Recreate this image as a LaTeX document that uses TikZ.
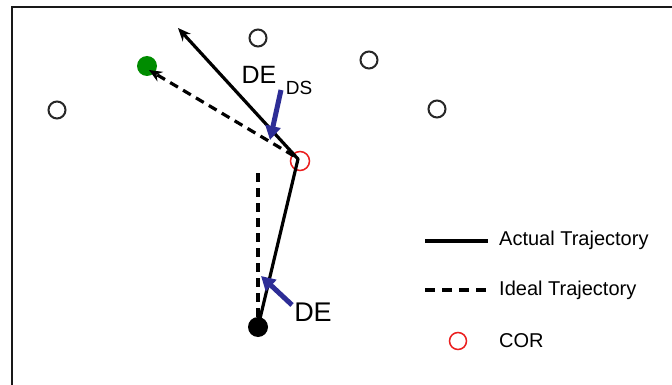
\documentclass[tikz,border=0pt]{standalone}
\usepackage{fontspec}
\setmainfont{Liberation Sans}
\usetikzlibrary{arrows.meta}
\definecolor{arrowblue}{RGB}{45,45,150}
\definecolor{goalgreen}{RGB}{0,140,0}
\definecolor{corred}{RGB}{235,30,30}
\begin{document}
\begin{tikzpicture}[x=1pt,y=-1pt,
  obst/.style={circle,draw=black!85,line width=2pt,minimum size=17pt,inner sep=0pt},
  goalpt/.style={circle,fill=goalgreen,minimum size=20pt,inner sep=0pt},
  startpt/.style={circle,fill=black,minimum size=20pt,inner sep=0pt},
  corpt/.style={circle,draw=corred,line width=1.5pt,minimum size=19pt,inner sep=0pt},
  actual/.style={line width=3.2pt,line join=round},
  ideal/.style={line width=3.2pt,dash pattern=on 9pt off 6pt},
  bluearrow/.style={draw=arrowblue,line width=5pt,-{Triangle[length=14pt,width=15pt]}},
  big/.style={font=\fontsize{27}{30}\selectfont,inner sep=0pt},
  bigds/.style={font=\fontsize{25}{28}\selectfont,inner sep=0pt},
  small/.style={font=\fontsize{19}{22}\selectfont,inner sep=0pt},
  legend/.style={font=\fontsize{20}{23}\selectfont,anchor=west,inner sep=0pt}
]
\useasboundingbox (0,0) rectangle (672,385);
\fill[white] (0,0) rectangle (672,385);
% frame
\draw[line width=2.5pt,black!90] (12,385) -- (12,7) -- (672,7);
% obstacles
\node[obst] (o1) at (57,110) {};
\node[obst] (o2) at (258,38) {};
\node[obst] (o3) at (369,60) {};
\node[obst] (o4) at (437,109) {};
% goal, start, COR
\node[goalpt] (goal) at (147,66) {};
\node[startpt] (start) at (258,327) {};
\node[corpt] (cor) at (300,161) {};
% trajectories
\coordinate (bend) at (298,159);
\coordinate (atip) at (178,28);
\draw[actual,-{Stealth[length=13pt,width=11pt]}] (start.center) -- (bend) -- (atip);
\coordinate (itop) at (258,173);
\draw[ideal] (start.north) -- (itop);
\coordinate (istart) at (294,156);
\coordinate (itip) at (149,70);
\draw[ideal,-{Stealth[length=13pt,width=11pt]}] (istart) -- (itip);
% DE_DS annotation
\node[bigds] (delbl) at (259,75) {DE};
\node[small] (dslbl) at (299,88) {DS};
\coordinate (dsfrom) at (281,90);
\coordinate (dsto) at (270,140);
\draw[bluearrow] (dsfrom) -- (dsto);
% DE annotation
\node[big] (de) at (313,312) {DE};
\coordinate (defrom) at (292,305);
\coordinate (deto) at (261,276);
\draw[bluearrow] (defrom) -- (deto);
% legend
\coordinate (la1) at (425,241);
\coordinate (la2) at (488,241);
\draw[actual] (la1) -- (la2);
\node[legend] (lat) at (499,240) {Actual Trajectory};
\coordinate (li1) at (425,290);
\coordinate (li2) at (490,290);
\draw[ideal,dash pattern=on 10pt off 7pt] (li1) -- (li2);
\node[legend] (lit) at (499,290) {Ideal Trajectory};
\node[corpt,minimum size=17pt] (lcor) at (458,341) {};
\node[legend] (lct) at (499,341) {COR};
\end{tikzpicture}
\end{document}
